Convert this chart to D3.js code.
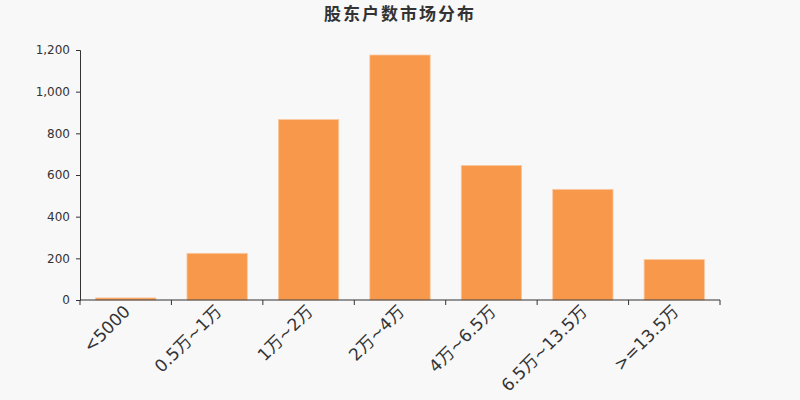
<!DOCTYPE html>
<html>
<head>
<meta charset="utf-8">
<script src="https://cdn.jsdelivr.net/npm/d3@7"></script>
<style>
html,body{margin:0;padding:0;background:#f8f8f8;}
svg{display:block;font-family:"DejaVu Sans","Noto Sans CJK SC",sans-serif;}
</style>
</head>
<body>
<svg id="chart" width="800" height="400"></svg>
<script>
const title = "股东户数市场分布";
const categories = ["<5000","0.5万~1万","1万~2万","2万~4万","4万~6.5万","6.5万~13.5万",">=13.5万"];
const values = [10, 224, 866, 1176, 646, 531, 194];
const yTicks = [0, 200, 400, 600, 800, 1000, 1200];

const svg = d3.select("#chart");
const W = 800, H = 400;
const margin = {left: 80, right: 80, top: 50, bottom: 100};

svg.append("rect").attr("width", W).attr("height", H).attr("fill", "#f8f8f8");

const x = d3.scaleBand().domain(categories).range([margin.left, W - margin.right]).paddingInner(0.34).paddingOuter(0.17);
const y = d3.scaleLinear().domain([0, 1200]).range([H - margin.bottom, margin.top]);

svg.append("text").attr("x", 400).attr("y", 20).attr("text-anchor", "middle")
  .attr("font-size", 17).attr("font-weight", "bold").attr("fill", "#333")
  .attr("letter-spacing", 2)
  .style("font-family", "'Noto Sans CJK SC',sans-serif")
  .text(title);

svg.append("g").selectAll("rect").data(values).join("rect")
  .attr("x", (d, i) => x(categories[i]))
  .attr("y", d => y(d))
  .attr("width", x.bandwidth())
  .attr("height", d => y(0) - y(d))
  .attr("fill", "#f7984a")
  .attr("stroke", "#fbc9a0")
  .attr("stroke-width", 0.8);

// y axis
const yAxis = svg.append("g").attr("transform", `translate(${margin.left},0)`)
  .call(d3.axisLeft(y).tickValues(yTicks).tickSize(4).tickPadding(6).tickFormat(d3.format(",")));
yAxis.selectAll("text").attr("font-size", 12).attr("fill", "#333").style("font-family", "'DejaVu Sans',sans-serif");
yAxis.selectAll("line,path").attr("stroke", "#333");

// x axis with ticks at band boundaries
const xAxisG = svg.append("g").attr("transform", `translate(0,${y(0)})`);
xAxisG.append("line").attr("x1", margin.left).attr("x2", W - margin.right).attr("stroke", "#333");
const bounds = d3.range(categories.length + 1).map(i => margin.left + i * (W - margin.left - margin.right) / categories.length);
xAxisG.selectAll("line.tick").data(bounds).join("line").attr("class", "tick")
  .attr("x1", d => d).attr("x2", d => d).attr("y1", 0).attr("y2", 5).attr("stroke", "#333");
xAxisG.selectAll("text").data(categories).join("text")
  .attr("transform", d => `translate(${x(d) + x.bandwidth() / 2 - 3},4) rotate(-45)`)
  .attr("text-anchor", "end")
  .attr("dy", "0.71em")
  .attr("font-size", 17)
  .attr("fill", "#333")
  .style("font-family", "'DejaVu Sans','Noto Sans CJK SC',sans-serif")
  .text(d => d);
</script>
</body>
</html>
